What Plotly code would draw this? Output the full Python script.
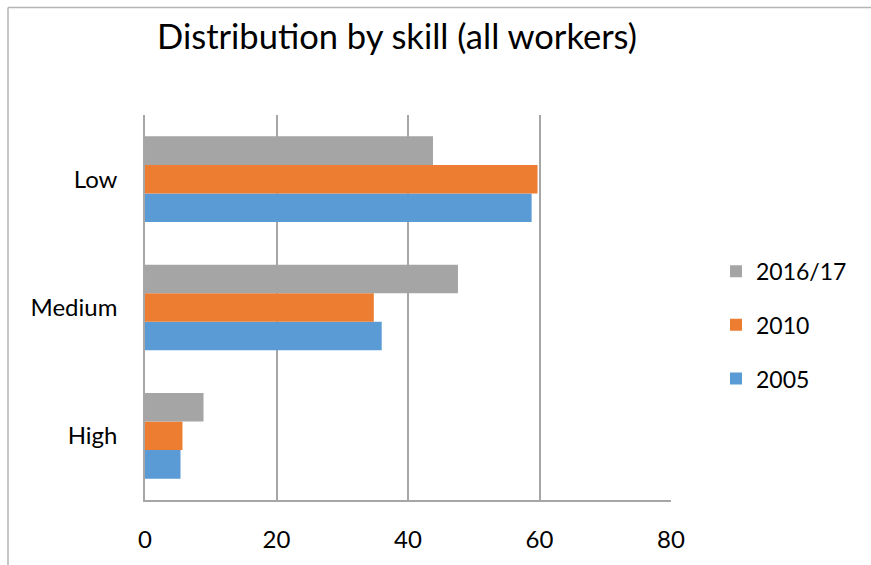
import plotly.graph_objects as go

# Skill categories, bottom to top on the category axis
skills = ["High", "Medium", "Low"]

# Share of workers by skill (%), one list per survey year
share_2005 = [5.4, 36.0, 58.8]
share_2010 = [5.7, 34.8, 59.7]
share_2016 = [8.9, 47.6, 43.8]

years = ["2005", "2010", "2016/17"]
colors = ["#5b9bd5", "#ed7d31", "#a5a5a5"]

x_ticks = [0, 20, 40, 60, 80]

FONT = "Lato, 'Open Sans', sans-serif"

W, H = 871, 565
L, R, T, B = 145, 200, 115, 63
pw, ph = W - L - R, H - T - B


def px_x(px):
    return (px - L) / pw


def px_y(py):
    return (H - B - py) / ph


# one legend box per year so the entries can sit further apart
legend_ids = ["legend3", "legend2", "legend"]
legend_rows = [380, 326, 272]

fig = go.Figure()
for name, vals, col, lg in zip(years, [share_2005, share_2010, share_2016],
                               colors, legend_ids):
    fig.add_trace(go.Bar(
        y=skills, x=vals, name=name, orientation="h",
        marker=dict(color=col, line=dict(width=0)),
        legend=lg, showlegend=True,
    ))

legend_style = dict(
    x=px_x(716), xanchor="left", yanchor="middle",
    font=dict(family=FONT, size=23, color="black"),
    bgcolor="rgba(0,0,0,0)", borderwidth=0,
)

fig.update_layout(
    width=W, height=H,
    margin=dict(l=L, r=R, t=T, b=B, pad=0),
    paper_bgcolor="white", plot_bgcolor="white",
    barmode="group", bargap=0.333, bargroupgap=0,
    showlegend=True,
    font=dict(family=FONT, color="black"),
    title=dict(
        text="Distribution by skill (all workers)",
        font=dict(family=FONT, size=34.5, color="black"),
        x=397 / W, xanchor="center", xref="container",
        y=1 - 37 / H, yanchor="middle", yref="container",
    ),
    legend=dict(y=px_y(legend_rows[2]), **legend_style),
    legend2=dict(y=px_y(legend_rows[1]), **legend_style),
    legend3=dict(y=px_y(legend_rows[0]), **legend_style),
    xaxis=dict(
        range=[0, 80], tickvals=x_ticks,
        showgrid=True, gridcolor="#a6a6a6", gridwidth=1.5,
        zeroline=False,
        showline=True, linecolor="#a6a6a6", linewidth=1.5,
        ticks="", ticklabelstandoff=17,
        tickfont=dict(family=FONT, size=24, color="black"),
        fixedrange=True,
    ),
    yaxis=dict(
        showgrid=False, zeroline=False,
        showline=True, linecolor="#a6a6a6", linewidth=1.5,
        ticks="", ticklabelstandoff=21,
        tickfont=dict(family=FONT, size=24, color="black"),
        fixedrange=True,
    ),
    shapes=[
        dict(type="line", xref="paper", yref="paper",
             x0=px_x(8), x1=px_x(W + 5), y0=px_y(7), y1=px_y(7),
             line=dict(color="#b4b4b4", width=1.5)),
        dict(type="line", xref="paper", yref="paper",
             x0=px_x(8), x1=px_x(8), y0=px_y(7), y1=px_y(H + 5),
             line=dict(color="#b4b4b4", width=1.5)),
    ],
)

fig.write_html("out.html")
